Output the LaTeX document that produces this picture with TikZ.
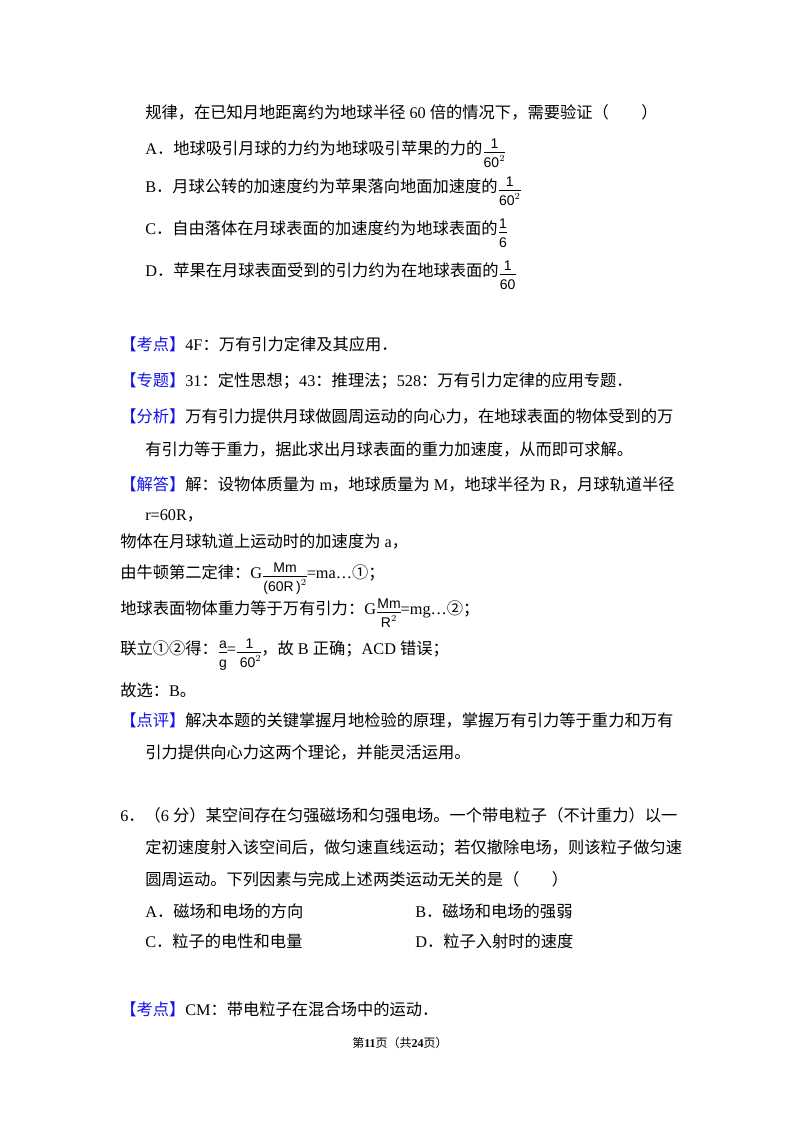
\documentclass[tikz,border=0pt]{standalone}
\usepackage{fontspec}
\setmainfont{Noto Sans CJK SC}
\newfontfamily\lt{Liberation Serif}
\newfontfamily\sfm{Liberation Sans}
\definecolor{kblue}{RGB}{20,20,230}
\newcommand{\tg}[1]{\textcolor{kblue}{【#1】}}
\newcommand{\fr}[2]{\kern1pt\raisebox{-0.5ex}{\sfm\fontsize{10.5}{10.5}\selectfont$\vcenter{\hbox{\begin{tabular}{@{}c@{}}\rule[-2pt]{0pt}{10pt}#1\\[-1pt]\hline\rule{0pt}{11pt}#2\end{tabular}}}$}}
\begin{document}
\begin{tikzpicture}[x=0.75pt,y=-0.75pt,
  t/.style={anchor=base west,inner sep=0pt,font=\fontsize{12.2}{14}\selectfont}]
\useasboundingbox (0,0) rectangle (800,1132);
\fill[white] (0,0) rectangle (800,1132);
\node[t] (l1) at (145,118) {规律，在已知月地距离约为地球半径{\lt\ 60 }倍的情况下，需要验证（　　）};
\node[t] (la) at (145,154) {{\lt A}．地球吸引月球的力约为地球吸引苹果的力的\fr{1}{60$^2$}};
\node[t] (lb) at (145,192) {{\lt B}．月球公转的加速度约为苹果落向地面加速度的\fr{1}{60$^2$}};
\node[t] (lc) at (145,234) {{\lt C}．自由落体在月球表面的加速度约为地球表面的\fr{1}{6}};
\node[t] (ld) at (145,276) {{\lt D}．苹果在月球表面受到的引力约为在地球表面的\fr{1}{60}};
\node[t] (k1) at (120,350) {\tg{考点}{\lt 4F}：万有引力定律及其应用．};
\node[t] (k2) at (120,386) {\tg{专题}{\lt 31}：定性思想；{\lt 43}：推理法；{\lt 528}：万有引力定律的应用专题．};
\node[t] (k3) at (120,422) {\tg{分析}万有引力提供月球做圆周运动的向心力，在地球表面的物体受到的万};
\node[t] (k4) at (145,455) {有引力等于重力，据此求出月球表面的重力加速度，从而即可求解。};
\node[t] (k5) at (120,490) {\tg{解答}解：设物体质量为{\lt\ m}，地球质量为{\lt\ M}，地球半径为{\lt\ R}，月球轨道半径};
\node[t] (k6) at (145,520) {{\lt r=60R}，};
\node[t] (k7) at (120,547) {物体在月球轨道上运动时的加速度为{\lt\ a}，};
\node[t] (k8) at (120,578) {由牛顿第二定律：{\lt G}\fr{Mm}{(60R\,)$^2$}{\lt =ma…}①；};
\node[t] (k9) at (120,614) {地球表面物体重力等于万有引力：{\lt G}\fr{Mm}{R$^2$}{\lt =mg…}②；};
\node[t] (k10) at (120,654) {联立①②得：\fr{a}{g}{\lt =}\fr{\,1\,}{\,60$^2$}，故{\lt\ B }正确；{\lt ACD }错误；};
\node[t] (k11) at (120,696) {故选：{\lt B}。};
\node[t] (k12) at (120,726) {\tg{点评}解决本题的关键掌握月地检验的原理，掌握万有引力等于重力和万有};
\node[t] (k13) at (145,758) {引力提供向心力这两个理论，并能灵活运用。};
\node[t] (q1) at (120,821) {{\lt 6}．（{\lt 6 }分）某空间存在匀强磁场和匀强电场。一个带电粒子（不计重力）以一};
\node[t] (q2) at (145,853) {定初速度射入该空间后，做匀速直线运动；若仅撤除电场，则该粒子做匀速};
\node[t] (q3) at (145,885) {圆周运动。下列因素与完成上述两类运动无关的是（　　）};
\node[t] (qa) at (145,917) {{\lt A}．磁场和电场的方向};
\node[t] (qb) at (415,917) {{\lt B}．磁场和电场的强弱};
\node[t] (qc) at (145,947) {{\lt C}．粒子的电性和电量};
\node[t] (qd) at (415,947) {{\lt D}．粒子入射时的速度};
\node[t] (k14) at (120,1015) {\tg{考点}{\lt CM}：带电粒子在混合场中的运动．};
\node[anchor=base,inner sep=0pt,font=\fontsize{9}{10}\selectfont] (ft) at (400,1047) {第{\lt\bfseries 11}页（共{\lt\bfseries 24}页）};
\end{tikzpicture}
\end{document}
